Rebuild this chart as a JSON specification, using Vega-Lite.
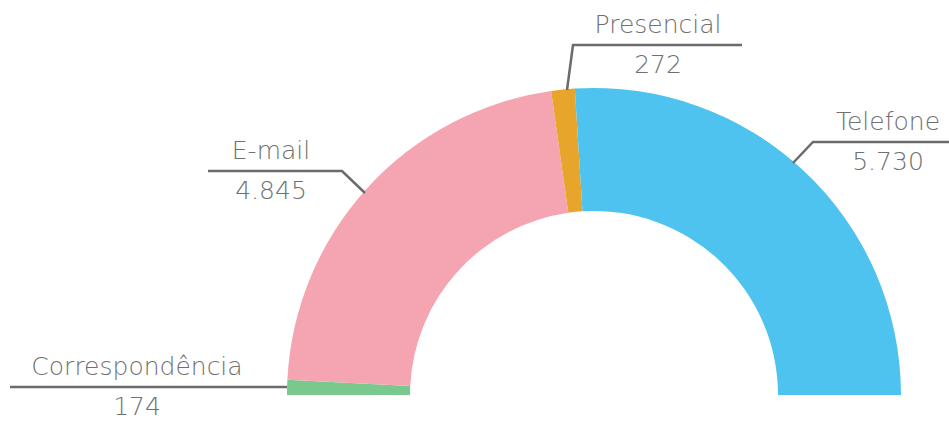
{
  "$schema": "https://vega.github.io/schema/vega-lite/v6.json",
  "width": 949,
  "height": 421,
  "padding": 0,
  "autosize": {"type": "none"},
  "background": "white",
  "config": {
    "view": {"stroke": null},
    "locale": {"number": {"decimal": ",", "thousands": ".", "grouping": [3], "currency": ["R$", ""]}}
  },
  "datasets": {
    "slices": [
      {"canal": "Correspondência", "atendimentos": 174, "ordem": 1, "lx": -457, "ly": 8},
      {"canal": "E-mail", "atendimentos": 4845, "ordem": 2, "lx": -323, "ly": 224},
      {"canal": "Presencial", "atendimentos": 272, "ordem": 3, "lx": 64, "ly": 350},
      {"canal": "Telefone", "atendimentos": 5730, "ordem": 4, "lx": 294, "ly": 253}
    ],
    "leaders": [
      {"canal": "Correspondência", "seq": 1, "px": -307, "py": 8},
      {"canal": "Correspondência", "seq": 2, "px": -584, "py": 8},
      {"canal": "E-mail", "seq": 1, "px": -229, "py": 202},
      {"canal": "E-mail", "seq": 2, "px": -252, "py": 224},
      {"canal": "E-mail", "seq": 3, "px": -386, "py": 224},
      {"canal": "Presencial", "seq": 1, "px": -27, "py": 305},
      {"canal": "Presencial", "seq": 2, "px": -21, "py": 350},
      {"canal": "Presencial", "seq": 3, "px": 148, "py": 350},
      {"canal": "Telefone", "seq": 1, "px": 199, "py": 232},
      {"canal": "Telefone", "seq": 2, "px": 219, "py": 253},
      {"canal": "Telefone", "seq": 3, "px": 355, "py": 253}
    ]
  },
  "resolve": {"scale": {"x": "shared", "y": "shared"}},
  "layer": [
    {
      "data": {"name": "slices"},
      "mark": {"type": "arc", "outerRadius": 307, "innerRadius": 184},
      "encoding": {
        "x": {"datum": 0, "type": "quantitative", "scale": {"domain": [-594, 355], "nice": false, "zero": false}, "axis": null},
        "y": {"datum": 0, "type": "quantitative", "scale": {"domain": [-26, 395], "nice": false, "zero": false}, "axis": null},
        "theta": {"field": "atendimentos", "type": "quantitative", "stack": true, "scale": {"range": [-1.5708, 1.5708]}},
        "order": {"field": "ordem", "type": "quantitative"},
        "color": {
          "field": "canal", "type": "nominal", "legend": null,
          "scale": {"domain": ["Correspondência", "E-mail", "Presencial", "Telefone"], "range": ["#79C98F", "#F5A5B1", "#E7A52C", "#4FC3F0"]}
        }
      }
    },
    {
      "data": {"name": "leaders"},
      "mark": {"type": "line", "color": "#6B6B6B", "strokeWidth": 2.5, "strokeJoin": "miter"},
      "encoding": {
        "x": {"field": "px", "type": "quantitative"},
        "y": {"field": "py", "type": "quantitative"},
        "detail": {"field": "canal"},
        "order": {"field": "seq", "type": "quantitative"}
      }
    },
    {
      "data": {"name": "slices"},
      "mark": {"type": "text", "font": "DejaVu Sans", "fontWeight": 200, "fontSize": 25, "color": "#707070", "align": "center", "baseline": "middle", "dy": -20},
      "encoding": {
        "x": {"field": "lx", "type": "quantitative"},
        "y": {"field": "ly", "type": "quantitative"},
        "text": {"field": "canal"}
      }
    },
    {
      "data": {"name": "slices"},
      "mark": {"type": "text", "font": "DejaVu Sans", "fontWeight": 200, "fontSize": 25, "color": "#707070", "align": "center", "baseline": "middle", "dy": 20},
      "encoding": {
        "x": {"field": "lx", "type": "quantitative"},
        "y": {"field": "ly", "type": "quantitative"},
        "text": {"field": "atendimentos", "type": "quantitative", "format": ","}
      }
    }
  ]
}
